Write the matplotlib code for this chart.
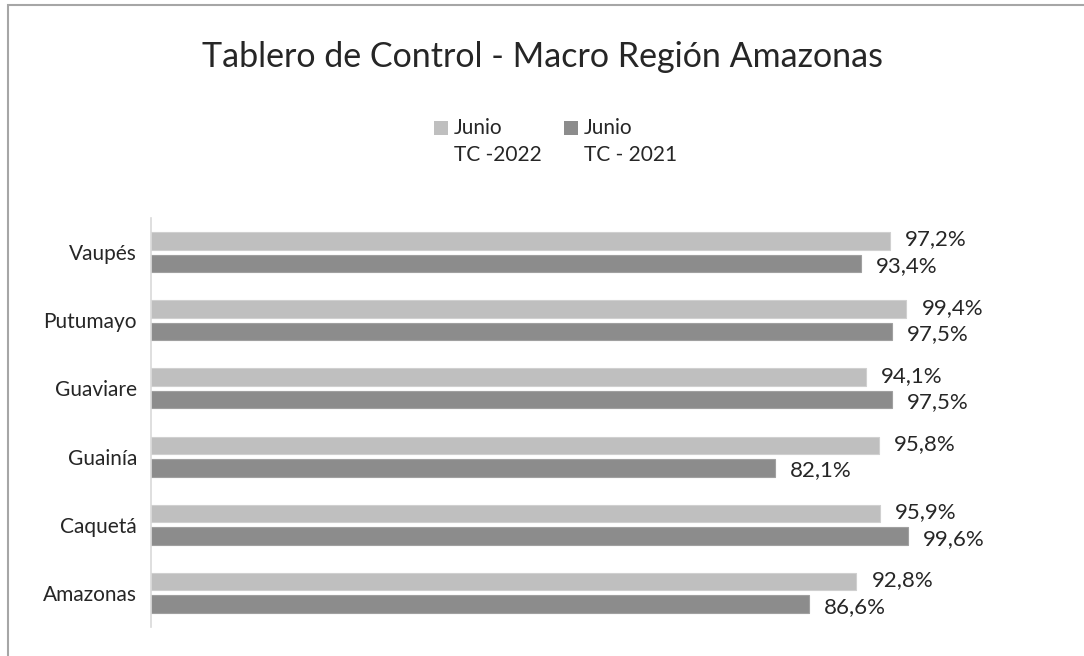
import matplotlib.pyplot as plt
import numpy as np
from matplotlib.patches import Rectangle

plt.rcParams['font.family'] = ['Lato', 'DejaVu Sans']

departamentos = ['Amazonas', 'Caquetá', 'Guainía', 'Guaviare', 'Putumayo', 'Vaupés']
tc_2022 = [92.8, 95.9, 95.8, 94.1, 99.4, 97.2]
tc_2021 = [86.6, 99.6, 82.1, 97.5, 97.5, 93.4]
nombres_serie = ['Junio\nTC -2022', 'Junio\nTC - 2021']

color_claro = '#BFBFBF'
color_oscuro = '#8C8C8C'
color_texto = '#262626'


def etiqueta(v):
    return f"{v:.1f}".replace('.', ',') + '%'


fig = plt.figure(figsize=(10.84, 6.56), dpi=100)
ax = fig.add_axes([0.1393, 0.0442, 0.8413, 0.6235])

y = np.arange(len(departamentos))
alto = 0.255
desp = 0.165

ax.barh(y + desp, tc_2022, height=alto, color=color_claro, edgecolor='#D0D0D0', linewidth=0.8)
ax.barh(y - desp, tc_2021, height=alto, color=color_oscuro, edgecolor='#A0A0A0', linewidth=0.8)

for i in range(len(departamentos)):
    ax.text(tc_2022[i] + 2.0, y[i] + desp + 0.02, etiqueta(tc_2022[i]), va='center', ha='left',
            fontsize=16, color=color_texto)
    ax.text(tc_2021[i] + 2.0, y[i] - desp - 0.04, etiqueta(tc_2021[i]), va='center', ha='left',
            fontsize=16, color=color_texto)

ax.set_xlim(0, 120)
ax.set_ylim(-0.5, 5.5)
ax.set_yticks(y)
ax.set_yticklabels(departamentos, fontsize=15, color=color_texto)
ax.tick_params(axis='y', length=0, pad=10)
ax.set_xticks([])
for lado in ['top', 'right', 'bottom']:
    ax.spines[lado].set_visible(False)
ax.spines['left'].set_color('#D9D9D9')
ax.spines['left'].set_linewidth(1.2)

# titulo
fig.text(0.5, 1 - 57 / 656, 'Tablero de Control - Macro Región Amazonas', ha='center', va='center',
         fontsize=24.5, color=color_texto)

# leyenda manual
W, H = 1084, 656
for px, col, nombre in [(434, color_claro, nombres_serie[0]), (564, color_oscuro, nombres_serie[1])]:
    fig.patches.append(Rectangle((px / W, 1 - 135 / H), 14 / W, 14 / H, transform=fig.transFigure,
                                 facecolor=col, edgecolor='none'))
    fig.text((px + 20) / W, 1 - 118 / H, nombre, ha='left', va='top', fontsize=15,
             color=color_texto, linespacing=1.45)

# marco
fig.patches.append(Rectangle((8 / W, -0.05), 1.1, 1 - 5 / H + 0.05, transform=fig.transFigure,
                             facecolor='none', edgecolor='#A6A6A6', linewidth=1.5))

fig.savefig('out.png', dpi=100)
